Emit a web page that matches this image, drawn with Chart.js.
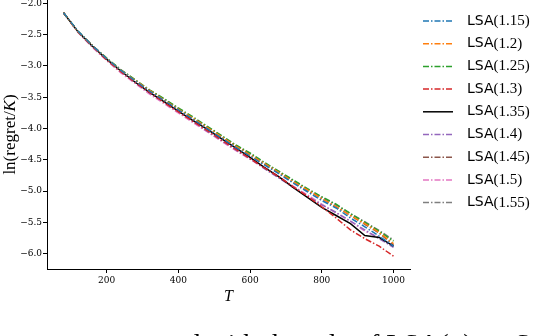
<!DOCTYPE html>
<html>
<head>
<meta charset="utf-8">
<script src="https://cdn.jsdelivr.net/npm/chart.js@4.4.1/dist/chart.umd.min.js"></script>
<style>
  body { margin: 0; background: #fff; overflow: hidden; }
  #wrap { position: relative; width: 558px; height: 336px; overflow: hidden; }
  #caption { position: absolute; left: 160px; top: 330px; font: 28px "Liberation Serif", serif; line-height: 28px; white-space: nowrap; color: #000; }
</style>
</head>
<body>
<div id="wrap">
  <canvas id="myChart" width="558" height="336"></canvas>
  <div id="caption">and with the rule of LSA(α) on S</div>
</div>
<script>
const tValues = [80, 120, 160, 200, 240, 280, 320, 360, 400, 440, 480, 520, 560, 600, 640, 680, 720, 760, 800, 840, 880, 920, 960, 1000];

const lsa115 = [-2.15, -2.44, -2.67, -2.88, -3.07, -3.24, -3.40, -3.55, -3.70, -3.85, -4.00, -4.15, -4.30, -4.44, -4.58, -4.72, -4.87, -5.01, -5.15, -5.27, -5.43, -5.57, -5.72, -5.88];
const lsa12  = [-2.15, -2.45, -2.67, -2.88, -3.07, -3.23, -3.39, -3.54, -3.69, -3.83, -3.98, -4.13, -4.28, -4.42, -4.56, -4.70, -4.85, -4.98, -5.12, -5.25, -5.39, -5.52, -5.66, -5.84];
const lsa125 = [-2.15, -2.44, -2.67, -2.87, -3.06, -3.22, -3.38, -3.52, -3.67, -3.81, -3.96, -4.11, -4.26, -4.39, -4.54, -4.68, -4.82, -4.96, -5.09, -5.21, -5.36, -5.50, -5.64, -5.80];
const lsa13  = [-2.15, -2.45, -2.68, -2.90, -3.09, -3.26, -3.42, -3.58, -3.73, -3.88, -4.03, -4.18, -4.33, -4.48, -4.63, -4.77, -4.93, -5.08, -5.25, -5.43, -5.62, -5.76, -5.88, -6.04];
const lsa135 = [-2.15, -2.45, -2.68, -2.89, -3.08, -3.26, -3.42, -3.57, -3.72, -3.87, -4.01, -4.16, -4.31, -4.46, -4.62, -4.77, -4.94, -5.10, -5.26, -5.39, -5.52, -5.71, -5.74, -5.88];
const lsa14  = [-2.15, -2.45, -2.68, -2.90, -3.09, -3.26, -3.43, -3.58, -3.73, -3.88, -4.04, -4.19, -4.34, -4.48, -4.64, -4.79, -4.94, -5.08, -5.22, -5.34, -5.48, -5.62, -5.76, -5.90];
const lsa145 = [-2.15, -2.45, -2.67, -2.88, -3.07, -3.24, -3.40, -3.54, -3.69, -3.84, -3.99, -4.14, -4.28, -4.42, -4.57, -4.71, -4.85, -4.99, -5.12, -5.25, -5.39, -5.53, -5.67, -5.86];
const lsa15  = [-2.15, -2.46, -2.70, -2.91, -3.11, -3.28, -3.45, -3.60, -3.75, -3.90, -4.05, -4.20, -4.35, -4.49, -4.63, -4.77, -4.92, -5.06, -5.21, -5.35, -5.48, -5.64, -5.74, -5.88];
const lsa155 = [-2.15, -2.45, -2.67, -2.88, -3.06, -3.23, -3.39, -3.53, -3.68, -3.83, -3.97, -4.12, -4.27, -4.40, -4.55, -4.69, -4.83, -4.97, -5.10, -5.22, -5.36, -5.49, -5.63, -5.78];

const seriesNames = ['1.15', '1.2', '1.25', '1.3', '1.35', '1.4', '1.45', '1.5', '1.55'];
const seriesValues = [lsa115, lsa12, lsa125, lsa13, lsa135, lsa14, lsa145, lsa15, lsa155];
const seriesColors = ['#1f77b4', '#ff7f0e', '#2ca02c', '#d62728', '#000000', '#9467bd', '#8c564b', '#e377c2', '#7f7f7f'];

const xTicks = [200, 400, 600, 800, 1000];
const yTicks = [-6.0, -5.5, -5.0, -4.5, -4.0, -3.5, -3.0, -2.5, -2.0];

const dashDot = [6, 2, 1.5, 2];

const datasets = seriesNames.map((name, i) => ({
  label: 'LSA(' + name + ')',
  data: tValues.map((t, j) => ({ x: t, y: seriesValues[i][j] })),
  borderColor: seriesColors[i],
  borderWidth: 1.5,
  borderDash: name === '1.35' ? [] : dashDot,
  pointRadius: 0,
  tension: 0,
  fill: false
}));

// legend + axis titles, drawn by hand to mix fonts like the original
const extras = {
  id: 'extras',
  afterDraw(chart) {
    const ctx = chart.ctx;
    const area = chart.chartArea;
    ctx.save();
    ctx.textBaseline = 'middle';
    chart.data.datasets.forEach((ds, i) => {
      const y = 21 + i * 22.7;
      ctx.beginPath();
      ctx.setLineDash(ds.borderDash);
      ctx.strokeStyle = ds.borderColor;
      ctx.lineWidth = ds.borderWidth;
      ctx.moveTo(423, y);
      ctx.lineTo(453, y);
      ctx.stroke();
      ctx.setLineDash([]);
      ctx.fillStyle = '#000';
      ctx.font = '14px "DejaVu Sans"';
      ctx.fillText('LSA', 467, y);
      const w = ctx.measureText('LSA').width;
      ctx.font = '15px "Liberation Serif"';
      ctx.fillText('(' + seriesNames[i] + ')', 467 + w, y);
    });

    // x title
    ctx.textAlign = 'center';
    ctx.font = 'italic 16px "Liberation Serif"';
    ctx.fillText('T', (area.left + area.right) / 2, 297);

    // y title
    ctx.translate(11, (area.top + area.bottom) / 2);
    ctx.rotate(-Math.PI / 2);
    const f = '17px "Liberation Serif"';
    const parts = [['ln(regret/', f], ['K', 'italic ' + f], [')', f]];
    let total = 0;
    parts.forEach(p => { ctx.font = p[1]; total += ctx.measureText(p[0]).width; });
    ctx.textAlign = 'left';
    let x = -total / 2;
    parts.forEach(p => { ctx.font = p[1]; ctx.fillText(p[0], x, 0); x += ctx.measureText(p[0]).width; });
    ctx.restore();
  }
};

const tickFont = { family: '"DejaVu Serif"', size: 9 };

new Chart('myChart', {
  type: 'line',
  data: { datasets: datasets },
  options: {
    responsive: false,
    animation: false,
    layout: { padding: { left: 0, right: 148, top: 0, bottom: 31 } },
    plugins: { legend: { display: false }, tooltip: { enabled: false } },
    scales: {
      x: {
        type: 'linear',
        min: 34,
        max: 1046,
        afterBuildTicks: s => { s.ticks = xTicks.map(v => ({ value: v })); },
        afterFit: s => { s.height = 36; s.paddingLeft = 0; s.paddingRight = 0; },
        grid: { drawOnChartArea: false, drawTicks: true, tickLength: 4, color: '#000' },
        border: { display: true, color: '#000', width: 1 },
        ticks: { font: tickFont, color: '#000', padding: 2, maxRotation: 0, callback: v => String(v) }
      },
      y: {
        type: 'linear',
        min: -6.245,
        max: -1.945,
        afterBuildTicks: s => { s.ticks = yTicks.map(v => ({ value: v })); },
        afterFit: s => { s.width = 47; s.paddingTop = 0; s.paddingBottom = 0; },
        grid: { drawOnChartArea: false, drawTicks: true, tickLength: 4, color: '#000' },
        border: { display: true, color: '#000', width: 1 },
        ticks: {
          font: tickFont,
          color: '#000',
          padding: 1,
          callback: v => (v < 0 ? '\u2212' : '') + Math.abs(v).toFixed(1)
        }
      }
    }
  },
  plugins: [extras]
});
</script>
</body>
</html>
